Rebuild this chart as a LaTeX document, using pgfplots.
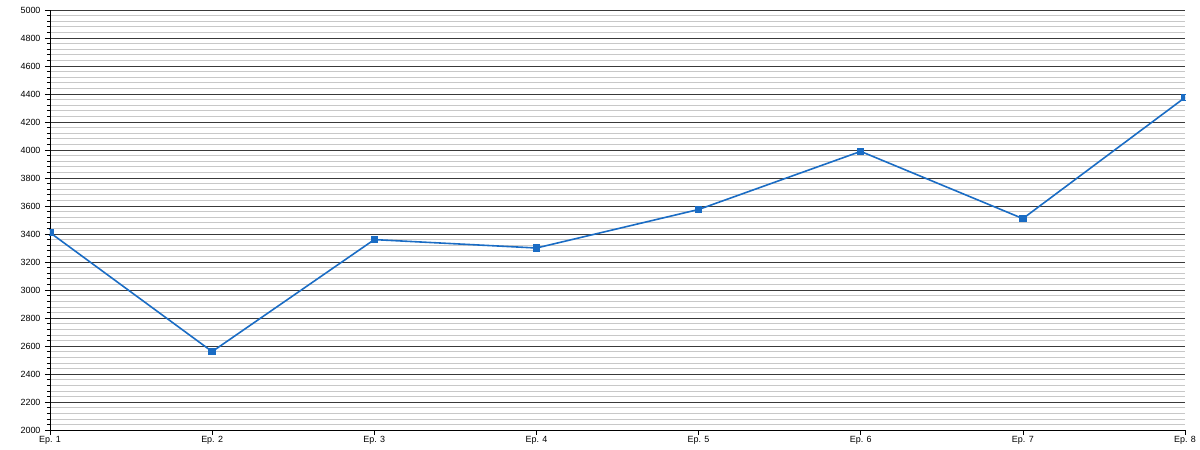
\documentclass[border=0pt]{standalone}
\usepackage{pgfplots}
\pgfplotsset{compat=1.18}
\usepackage{fontspec}
\setmainfont{Liberation Sans}
\definecolor{lineblue}{HTML}{1A6CC4}
\definecolor{majgrid}{HTML}{3A3A3A}
\definecolor{mingrid}{HTML}{C8C8C8}
\begin{document}
\begin{tikzpicture}
\path[use as bounding box] (0,0) rectangle (1200bp,450bp);
\begin{axis}[
  at={(50bp,20bp)}, anchor=south west,
  scale only axis,
  width=1135bp, height=420bp,
  xmin=1, xmax=8, ymin=2000, ymax=5000,
  axis x line*=bottom, axis y line*=left,
  axis line style={black, line width=0.8pt, -},
  xtick={1,...,8},
  xticklabels={Ep. 1,Ep. 2,Ep. 3,Ep. 4,Ep. 5,Ep. 6,Ep. 7,Ep. 8},
  ytick={2000,2200,...,5000},
  minor y tick num=4,
  ymajorgrids, yminorgrids,
  major grid style={majgrid, line width=0.6pt},
  minor grid style={mingrid, line width=0.6pt},
  tick align=outside,
  major tick length=5bp, minor tick length=3bp,
  tick style={black, line width=0.6pt},
  xtick style={black},
  ticklabel style={font=\fontsize{9}{10}\selectfont, text=black},
  y tick label style={xshift=-1bp},
  x tick label style={yshift=2bp},
  /pgf/number format/assume math mode=true,
  /pgf/number format/1000 sep={},
  clip marker paths=true,
]
\addplot[lineblue, line width=1.6pt, mark=square*, mark size=3.2bp, mark options={fill=lineblue, draw=lineblue, line width=0pt}]
  coordinates {(1,3410) (2,2560) (3,3360) (4,3300) (5,3575) (6,3990) (7,3510) (8,4375)};
\end{axis}
\end{tikzpicture}
\end{document}
